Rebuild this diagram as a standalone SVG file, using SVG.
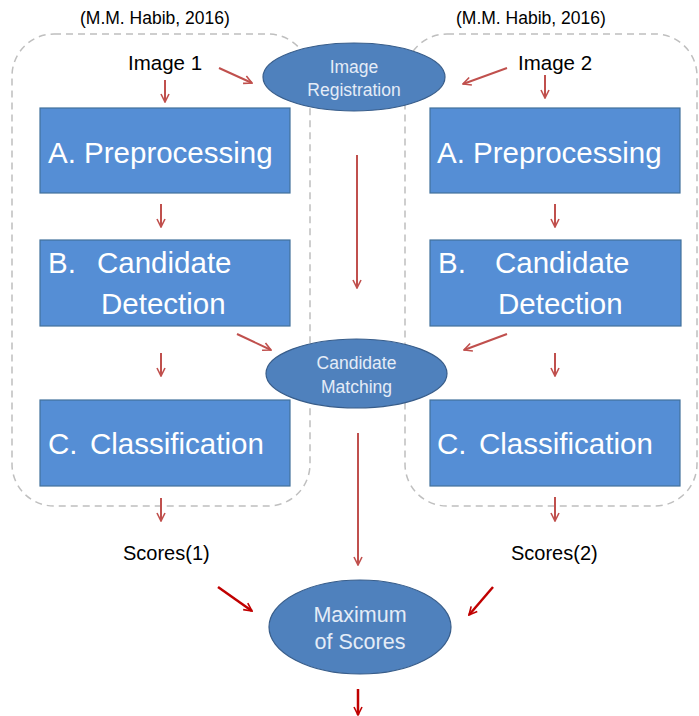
<svg xmlns="http://www.w3.org/2000/svg" width="699" height="716" viewBox="0 0 699 716">
<style>
.grp{fill:none;stroke:#bfbfbf;stroke-width:1.5;stroke-dasharray:7 5}
.box{fill:#558ed5;stroke:#41719c;stroke-width:1.2}
.ell{fill:#4f81bd;stroke:#385d8a;stroke-width:1.2}
.bt{font-family:"Liberation Sans",Arial,sans-serif;font-size:29.5px;fill:#ffffff}
.et{font-family:"Liberation Sans",Arial,sans-serif;font-size:17.5px;fill:#e4ecf7;text-anchor:middle}
.lbl{font-family:"Liberation Sans",Arial,sans-serif;font-size:20.5px;fill:#000000}
.cit{font-family:"Liberation Sans",Arial,sans-serif;font-size:17.5px;fill:#000000}
.a1{stroke:#c0504d;stroke-width:2;fill:none;marker-end:url(#h1)}
.a2{stroke:#c00000;stroke-width:2.5;fill:none;marker-end:url(#h2)}
</style>
<defs>
<marker id="h1" viewBox="0 0 10 10" refX="9" refY="5" markerWidth="5" markerHeight="5" orient="auto" markerUnits="strokeWidth">
<path d="M1,1 L9,5 L1,9" fill="none" stroke="#c0504d" stroke-width="1.6"/>
</marker>
<marker id="h2" viewBox="0 0 10 10" refX="9" refY="5" markerWidth="4" markerHeight="4" orient="auto" markerUnits="strokeWidth">
<path d="M1,1 L9,5 L1,9" fill="none" stroke="#c00000" stroke-width="1.6"/>
</marker>
</defs>

<g id="group-left"><rect class="grp" x="12" y="34" width="298" height="472" rx="42" ry="42"/></g>
<g id="group-right"><rect class="grp" x="405" y="34" width="292" height="472" rx="42" ry="42"/></g>

<g id="cite-left"><text class="cit" x="80" y="24">(M.M. Habib, 2016)</text></g>
<g id="cite-right"><text class="cit" x="456" y="24">(M.M. Habib, 2016)</text></g>

<g id="image1"><text class="lbl" x="128" y="70">Image 1</text></g>
<g id="image2"><text class="lbl" x="518" y="70">Image 2</text></g>

<g id="registration">
<ellipse class="ell" cx="354" cy="77" rx="91" ry="34"/>
<text class="et" x="354" y="73">Image</text>
<text class="et" x="354" y="96">Registration</text>
</g>

<g id="pre-left"><rect class="box" x="40" y="108" width="250" height="85"/><text class="bt" x="48" y="163">A. Preprocessing</text></g>
<g id="pre-right"><rect class="box" x="430" y="108" width="250" height="85"/><text class="bt" x="437" y="163">A. Preprocessing</text></g>

<g id="det-left"><rect class="box" x="40" y="240" width="250" height="86"/><text class="bt" x="48" y="273">B.</text><text class="bt" x="97" y="273">Candidate</text><text class="bt" x="101" y="314">Detection</text></g>
<g id="det-right"><rect class="box" x="430" y="240" width="251" height="86"/><text class="bt" x="438" y="273">B.</text><text class="bt" x="495" y="273">Candidate</text><text class="bt" x="498" y="314">Detection</text></g>

<g id="matching">
<ellipse class="ell" cx="356.5" cy="373.5" rx="90.5" ry="34.5"/>
<text class="et" x="356.5" y="369">Candidate</text>
<text class="et" x="356.5" y="393">Matching</text>
</g>

<g id="cls-left"><rect class="box" x="40" y="400" width="250" height="86"/><text class="bt" x="48" y="454">C.</text><text class="bt" x="90" y="454">Classification</text></g>
<g id="cls-right"><rect class="box" x="430" y="400" width="250" height="86"/><text class="bt" x="437" y="454">C.</text><text class="bt" x="479" y="454">Classification</text></g>

<g id="scores1"><text class="lbl" x="123" y="560" style="font-size:20px">Scores(1)</text></g>
<g id="scores2"><text class="lbl" x="511" y="560" style="font-size:20px">Scores(2)</text></g>

<g id="maximum">
<ellipse class="ell" cx="360" cy="627" rx="91" ry="47"/>
<text class="et" x="360" y="622" style="font-size:21.5px">Maximum</text>
<text class="et" x="360" y="649" style="font-size:21.5px">of Scores</text>
</g>

<g id="connectors">
<line class="a1" x1="165" y1="80" x2="165" y2="102"/>
<line class="a1" x1="219" y1="68" x2="252" y2="83"/>
<line class="a1" x1="507" y1="68" x2="463" y2="84"/>
<line class="a1" x1="545" y1="75" x2="545" y2="98"/>
<line class="a1" x1="161" y1="204" x2="161" y2="227"/>
<line class="a1" x1="555" y1="204" x2="555" y2="227"/>
<line class="a1" x1="357" y1="155" x2="357" y2="288"/>
<line class="a1" x1="237" y1="334" x2="271" y2="350"/>
<line class="a1" x1="507" y1="334" x2="464" y2="350"/>
<line class="a1" x1="161" y1="353" x2="161" y2="376"/>
<line class="a1" x1="555" y1="353" x2="555" y2="376"/>
<line class="a1" x1="358" y1="433" x2="358" y2="565"/>
<line class="a1" x1="161" y1="498" x2="161" y2="521"/>
<line class="a1" x1="555" y1="497" x2="555" y2="521"/>
<line class="a2" x1="218" y1="587" x2="252" y2="611"/>
<line class="a2" x1="493" y1="587" x2="469" y2="615"/>
<line class="a2" x1="358" y1="689" x2="358" y2="715"/>
</g>
</svg>
